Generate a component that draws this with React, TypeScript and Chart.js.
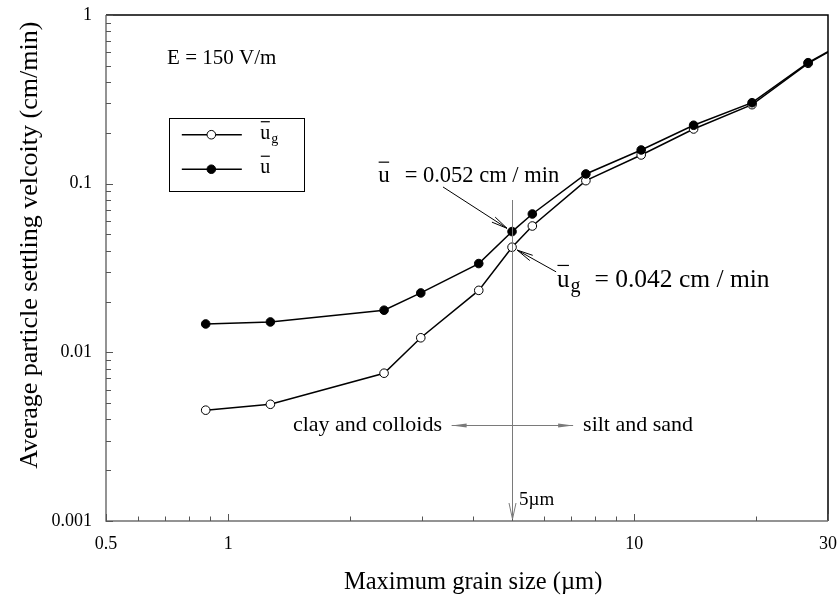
import React, { useEffect, useRef } from 'react';
import { Chart, registerables } from 'chart.js';

Chart.register(...registerables);

// ---- data ----
const grainSize = [0.88, 1.27, 2.42, 2.98, 4.14, 5.0, 5.61, 7.6, 10.4, 14.0, 19.5, 26.8, 40];
const velocityUg = [0.00454, 0.00492, 0.00752, 0.0122, 0.0233, 0.042, 0.0561, 0.1042, 0.148, 0.211, 0.294, 0.517, 0.885];
const velocityU = [0.01473, 0.01514, 0.01777, 0.0225, 0.0336, 0.052, 0.0661, 0.1142, 0.1584, 0.222, 0.302, 0.5216, 0.89];
const xTickLabels = [0.5, 1, 10, 30];
const yTickLabels = [0.001, 0.01, 0.1, 1];
const xMinorTicks = [0.6, 0.7, 0.8, 0.9, 2, 3, 4, 5, 6, 7, 8, 9, 20];
const yMinorTicks = [0.002, 0.003, 0.004, 0.005, 0.006, 0.007, 0.008, 0.009, 0.02, 0.03, 0.04, 0.05, 0.06, 0.07, 0.08, 0.09, 0.2, 0.3, 0.4, 0.5, 0.6, 0.7, 0.8, 0.9];

// annotation texts and their anchors (data units)
const fieldLabel = 'E = 150 V/m';
const fieldLabelAt = [0.707, 0.556];
const uLabelText = '= 0.052 cm / min';
const uLabelAt = [2.34, 0.1027];
const uArrowFrom = [3.38, 0.0956];
const ugLabelText = '= 0.042 cm / min';
const ugLabelAt = [6.45, 0.0245];
const ugArrowFrom = [6.42, 0.0300];
const cutSize = 5;
const cutLineTop = 0.08;
const cutLabel = '5\u00b5m';
const cutLabelAt = [5.2, 0.00133];
const regionArrowY = 0.00373;
const regionArrowLeft = 3.55;
const regionArrowRight = 7.07;
const leftRegion = 'clay and colloids';
const leftRegionAt = 3.36;
const rightRegion = 'silt and sand';
const rightRegionAt = 7.48;
const legendBox = [0.716, 0.246, 1.54, 0.0905];

const FONT = '"Liberation Serif", "Times New Roman", serif';

function drawBarU(ctx: CanvasRenderingContext2D, x: number, base: number, size: number, sub?: string, subSize?: number) {
  ctx.font = `${size}px ${FONT}`;
  ctx.textAlign = 'left';
  ctx.textBaseline = 'alphabetic';
  ctx.fillStyle = '#000';
  ctx.fillText('u', x, base);
  const w = ctx.measureText('u').width;
  ctx.beginPath();
  ctx.strokeStyle = '#000';
  ctx.lineWidth = 1.2;
  ctx.moveTo(x + 0.5, base - size * 0.85);
  ctx.lineTo(x + w - 0.5, base - size * 0.85);
  ctx.stroke();
  let end = x + w;
  if (sub) {
    ctx.font = `${subSize || Math.round(size * 0.7)}px ${FONT}`;
    ctx.fillText(sub, end + 1, base + size * 0.22);
    end += 1 + ctx.measureText(sub).width;
  }
  return end;
}

function arrowLine(ctx: CanvasRenderingContext2D, x1: number, y1: number, x2: number, y2: number, len: number, half: number, filled: boolean) {
  ctx.beginPath();
  ctx.moveTo(x1, y1);
  ctx.lineTo(x2, y2);
  ctx.stroke();
  const a = Math.atan2(y2 - y1, x2 - x1);
  const bx = x2 - Math.cos(a) * len;
  const by = y2 - Math.sin(a) * len;
  const px = -Math.sin(a) * half;
  const py = Math.cos(a) * half;
  ctx.beginPath();
  ctx.moveTo(bx + px, by + py);
  ctx.lineTo(x2, y2);
  ctx.lineTo(bx - px, by - py);
  if (filled) {
    ctx.closePath();
    ctx.fill();
  } else {
    ctx.stroke();
  }
}

const annotations = {
  id: 'annotations',
  afterDraw(chart: any) {
    const ctx: CanvasRenderingContext2D = chart.ctx;
    const xs = chart.scales.x;
    const ys = chart.scales.y;
    const X = (v: number) => xs.getPixelForValue(v);
    const Y = (v: number) => ys.getPixelForValue(v);
    const { left, right, top, bottom } = chart.chartArea;
    ctx.save();

    // frame
    ctx.lineWidth = 1.5;
    ctx.strokeStyle = '#000';
    ctx.beginPath();
    ctx.moveTo(left, top);
    ctx.lineTo(right, top);
    ctx.lineTo(right, bottom);
    ctx.stroke();
    ctx.strokeStyle = '#707070';
    ctx.beginPath();
    ctx.moveTo(right, bottom);
    ctx.lineTo(left, bottom);
    ctx.lineTo(left, top);
    ctx.stroke();

    // inside ticks
    ctx.lineWidth = 1;
    ctx.strokeStyle = '#555';
    ctx.beginPath();
    xTickLabels.forEach((v) => {
      const px = Math.round(X(v)) + 0.5;
      ctx.moveTo(px, bottom);
      ctx.lineTo(px, bottom - 7);
    });
    xMinorTicks.forEach((v) => {
      const px = Math.round(X(v)) + 0.5;
      ctx.moveTo(px, bottom);
      ctx.lineTo(px, bottom - 4.5);
    });
    yTickLabels.forEach((v) => {
      const py = Math.round(Y(v)) + 0.5;
      ctx.moveTo(left, py);
      ctx.lineTo(left + 7, py);
    });
    yMinorTicks.forEach((v) => {
      const py = Math.round(Y(v)) + 0.5;
      ctx.moveTo(left, py);
      ctx.lineTo(left + 5, py);
    });
    ctx.stroke();

    // field label
    ctx.fillStyle = '#000';
    ctx.font = `21px ${FONT}`;
    ctx.textAlign = 'left';
    ctx.textBaseline = 'middle';
    ctx.fillText(fieldLabel, X(fieldLabelAt[0]), Y(fieldLabelAt[1]));

    // legend
    const lx1 = X(legendBox[0]);
    const ly1 = Y(legendBox[1]);
    const lx2 = X(legendBox[2]);
    const ly2 = Y(legendBox[3]);
    ctx.strokeStyle = '#000';
    ctx.lineWidth = 1;
    ctx.strokeRect(Math.round(lx1) + 0.5, Math.round(ly1) + 0.5, Math.round(lx2 - lx1), Math.round(ly2 - ly1));
    const rows = [
      { y: ly1 + 17, fill: '#fff', sub: 'g' },
      { y: ly1 + 51.5, fill: '#000', sub: undefined as string | undefined },
    ];
    rows.forEach((r) => {
      ctx.lineWidth = 1.5;
      ctx.strokeStyle = '#000';
      ctx.beginPath();
      ctx.moveTo(lx1 + 12.5, r.y);
      ctx.lineTo(lx1 + 72.5, r.y);
      ctx.stroke();
      ctx.beginPath();
      ctx.arc(lx1 + 42, r.y, 4.3, 0, Math.PI * 2);
      ctx.fillStyle = r.fill;
      ctx.fill();
      ctx.lineWidth = 1;
      ctx.stroke();
      drawBarU(ctx, lx1 + 91, r.y + 4, 20, r.sub);
    });

    // vertical 5 um line with arrow
    ctx.strokeStyle = '#7a7a7a';
    ctx.fillStyle = '#7a7a7a';
    ctx.lineWidth = 1;
    const cx = Math.round(X(cutSize)) + 0.5;
    arrowLine(ctx, cx, Y(cutLineTop), cx, bottom - 2, 16, 3.5, false);
    ctx.fillStyle = '#000';
    ctx.font = `19px ${FONT}`;
    ctx.textAlign = 'left';
    ctx.textBaseline = 'middle';
    ctx.fillText(cutLabel, X(cutLabelAt[0]), Y(cutLabelAt[1]));

    // region arrows
    ctx.strokeStyle = '#7a7a7a';
    ctx.fillStyle = '#7a7a7a';
    const ry = Math.round(Y(regionArrowY)) + 0.5;
    arrowLine(ctx, cx, ry, X(regionArrowLeft), ry, 15, 2, true);
    arrowLine(ctx, cx, ry, X(regionArrowRight), ry, 15, 2, true);
    ctx.fillStyle = '#000';
    ctx.font = `22px ${FONT}`;
    ctx.textBaseline = 'middle';
    ctx.textAlign = 'right';
    ctx.fillText(leftRegion, X(leftRegionAt), ry);
    ctx.textAlign = 'left';
    ctx.fillText(rightRegion, X(rightRegionAt), ry);

    // value annotations
    const uEnd = drawBarU(ctx, X(uLabelAt[0]), Y(uLabelAt[1]), 23);
    ctx.font = `22.5px ${FONT}`;
    ctx.fillText(uLabelText, uEnd + 15, Y(uLabelAt[1]));
    const ugEnd = drawBarU(ctx, X(ugLabelAt[0]), Y(ugLabelAt[1]), 25, 'g', 20);
    ctx.font = `25.5px ${FONT}`;
    ctx.fillText(ugLabelText, ugEnd + 14, Y(ugLabelAt[1]));

    ctx.strokeStyle = '#000';
    ctx.fillStyle = '#000';
    ctx.lineWidth = 1;
    const tip = (from: number[], vx: number, vy: number) => {
      const x1 = X(from[0]);
      const y1 = Y(from[1]);
      const x2 = X(vx);
      const y2 = Y(vy);
      const d = Math.hypot(x2 - x1, y2 - y1);
      const k = (d - 6) / d;
      arrowLine(ctx, x1, y1, x1 + (x2 - x1) * k, y1 + (y2 - y1) * k, 16, 3, false);
    };
    tip(uArrowFrom, cutSize, velocityU[5]);
    tip(ugArrowFrom, cutSize, velocityUg[5]);

    ctx.restore();
  },
};

export default function App() {
  const ref = useRef<HTMLCanvasElement | null>(null);
  useEffect(() => {
    if (!ref.current) return;
    const chart = new Chart(ref.current, {
      type: 'line',
      data: {
        datasets: [
          {
            label: 'ug',
            data: grainSize.map((x, i) => ({ x, y: velocityUg[i] })),
            borderColor: '#000',
            borderWidth: 1.5,
            pointRadius: 4.3,
            pointBackgroundColor: '#fff',
            pointBorderColor: '#000',
            pointBorderWidth: 1,
            tension: 0,
            order: 2,
          },
          {
            label: 'u',
            data: grainSize.map((x, i) => ({ x, y: velocityU[i] })),
            borderColor: '#000',
            borderWidth: 1.5,
            pointRadius: 4.3,
            pointBackgroundColor: '#000',
            pointBorderColor: '#000',
            pointBorderWidth: 1,
            tension: 0,
            order: 1,
          },
        ],
      },
      options: {
        animation: false,
        responsive: true,
        maintainAspectRatio: false,
        layout: { padding: { top: 15, right: 12, left: 0, bottom: 0 } },
        plugins: { legend: { display: false }, tooltip: { enabled: false } },
        scales: {
          x: {
            type: 'logarithmic',
            min: 0.5,
            max: 30,
            grid: { display: false, drawTicks: false },
            border: { display: false },
            afterBuildTicks: (s: any) => {
              s.ticks = xTickLabels.map((v) => ({ value: v }));
            },
            afterFit: (s: any) => {
              s.height = 84;
              s.paddingLeft = 0;
              s.paddingRight = 0;
              s.paddingTop = 0;
              s.paddingBottom = 0;
            },
            ticks: {
              autoSkip: false,
              maxRotation: 0,
              padding: 12,
              color: '#000',
              font: { family: FONT, size: 18 },
              callback: (v: any) => String(v),
            },
            title: {
              display: true,
              text: '\u2002Maximum grain size (\u00b5m)',
              color: '#000',
              font: { family: FONT, size: 24.5 },
              padding: { top: 0, bottom: 8 },
            },
          },
          y: {
            type: 'logarithmic',
            min: 0.001,
            max: 1,
            grid: { display: false, drawTicks: false },
            border: { display: false },
            afterBuildTicks: (s: any) => {
              s.ticks = yTickLabels.map((v) => ({ value: v }));
            },
            afterFit: (s: any) => {
              s.width = 106;
              s.paddingLeft = 0;
              s.paddingRight = 0;
              s.paddingTop = 0;
              s.paddingBottom = 0;
            },
            ticks: {
              autoSkip: false,
              padding: 14,
              color: '#000',
              font: { family: FONT, size: 18 },
              callback: (v: any) => String(v),
            },
            title: {
              display: true,
              text: '\u2003\u2002 Average particle settling velcoity (cm/min)',
              color: '#000',
              font: { family: FONT, size: 26 },
              padding: { top: 15, bottom: 0 },
            },
          },
        },
      },
      plugins: [annotations],
    });
    return () => chart.destroy();
  }, []);
  return (
    <div style={{ position: 'absolute', left: 0, top: 0, width: 840, height: 605, background: '#fff' }}>
      <canvas ref={ref} />
    </div>
  );
}
